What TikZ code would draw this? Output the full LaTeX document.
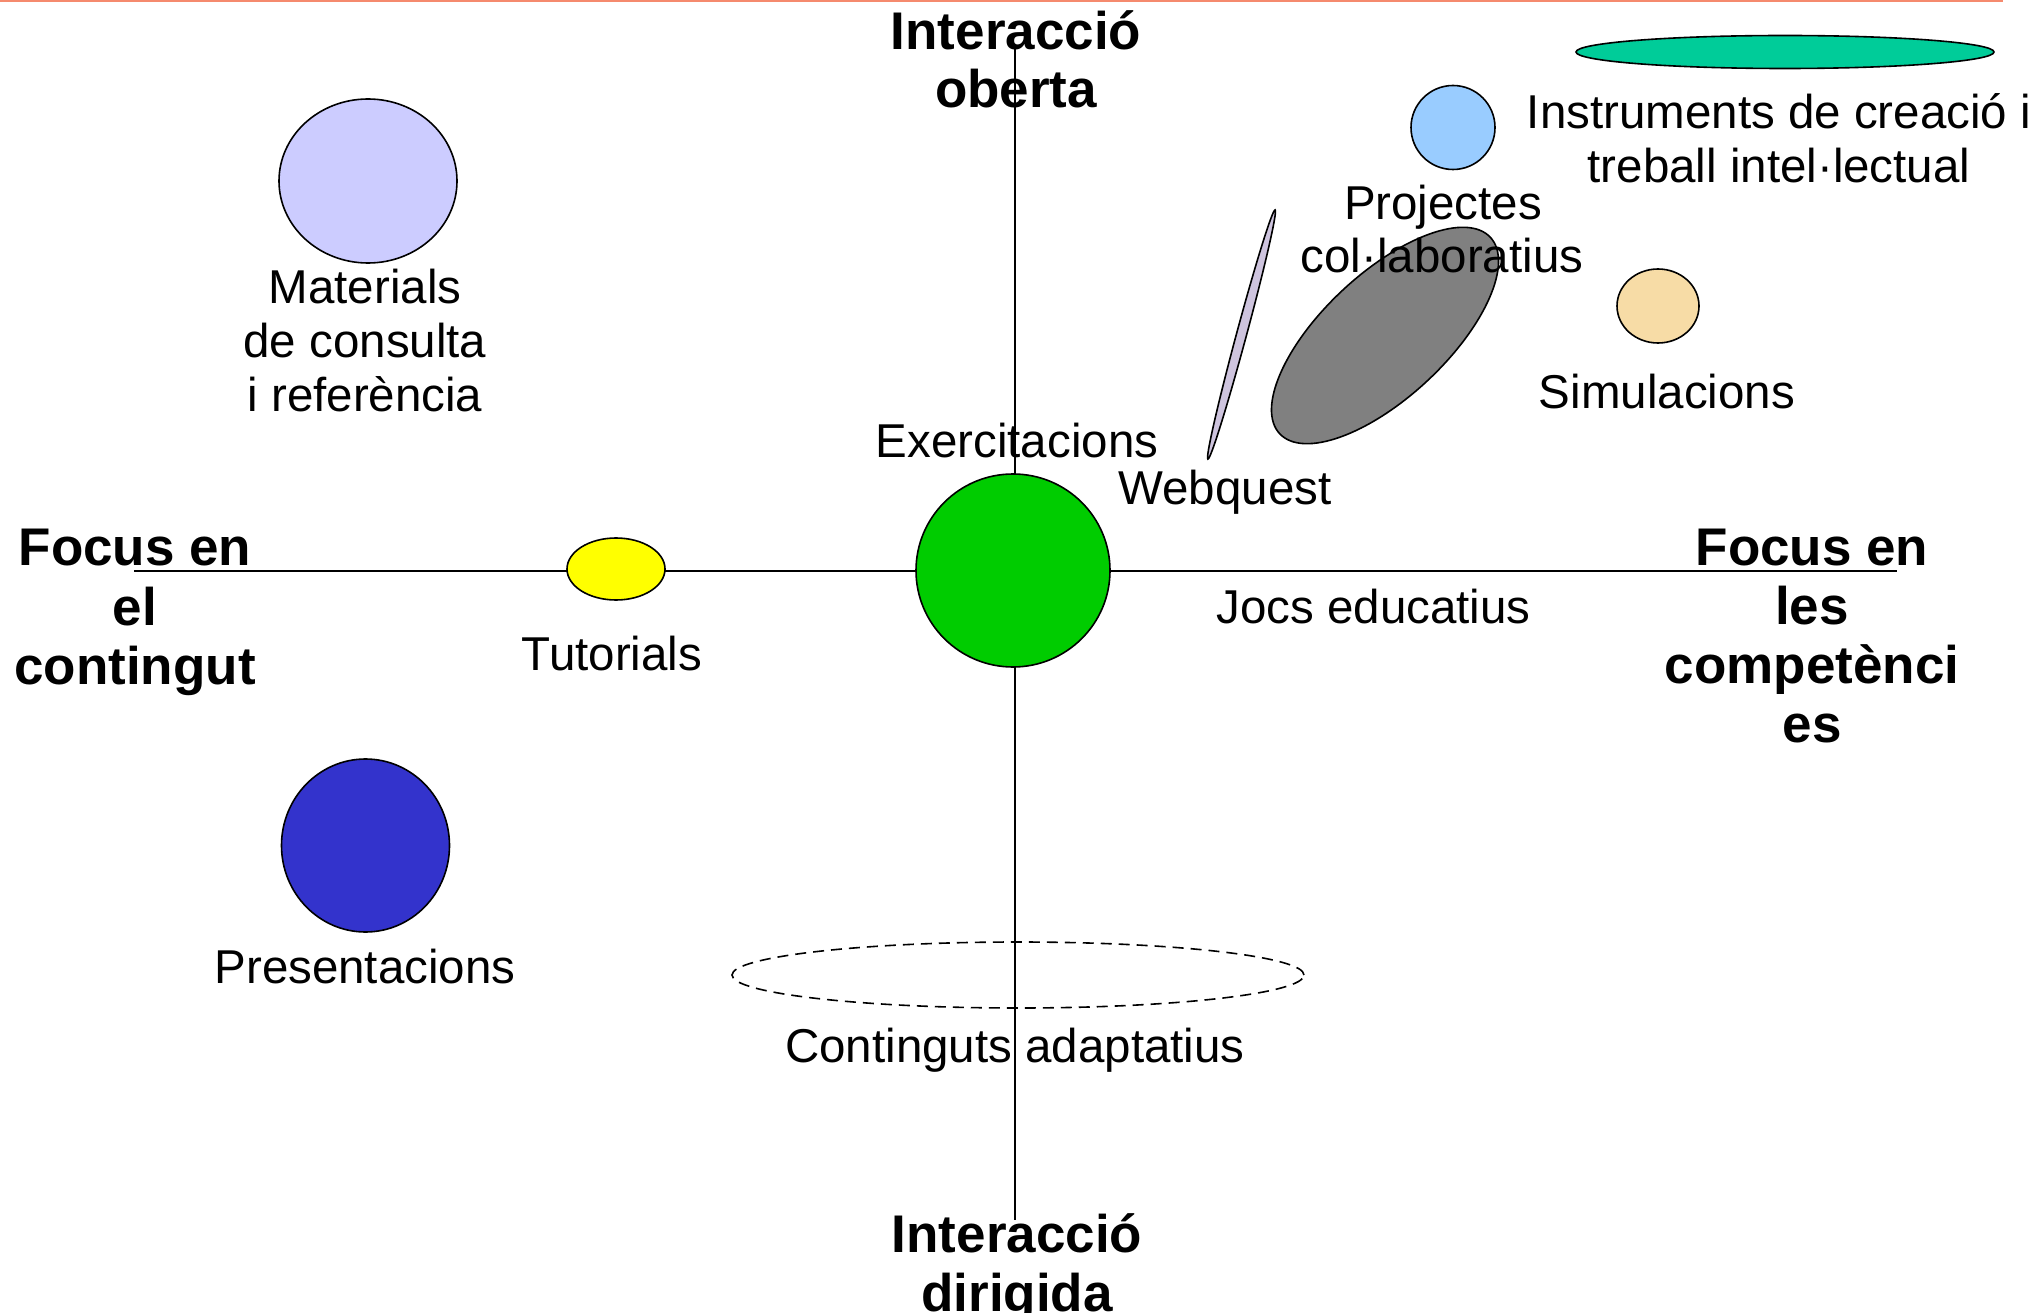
\documentclass[tikz,border=0pt]{standalone}
\usepackage{fontspec}
\setmainfont{Liberation Sans}
\usetikzlibrary{shapes.geometric}
\definecolor{topline}{HTML}{F58A6E}
\definecolor{instr}{HTML}{00CC99}
\definecolor{proj}{HTML}{99CCFF}
\definecolor{mater}{HTML}{CCCCFF}
\definecolor{webq}{HTML}{CEC4DE}
\definecolor{collab}{HTML}{808080}
\definecolor{simul}{HTML}{F7DCA6}
\definecolor{tutor}{HTML}{FFFF00}
\definecolor{exerc}{HTML}{00CC00}
\definecolor{presen}{HTML}{3333CC}
\tikzset{
  lbl/.style={font=\fontsize{47.5}{53}\selectfont, anchor=base, inner sep=0pt, outer sep=0pt},
  axlbl/.style={font=\fontsize{53}{59}\selectfont\bfseries, anchor=base, inner sep=0pt, outer sep=0pt},
  blob/.style={ellipse, draw=black, line width=1.6pt, inner sep=0pt, outer sep=0pt},
  axisline/.style={draw=black, line width=1.3pt},
}
\begin{document}
\begin{tikzpicture}[x=1pt,y=-1pt]
\useasboundingbox (0,0) rectangle (2035,1313);
\fill[white] (0,0) rectangle (2035,1313);
% top rule
\coordinate (tl) at (0,1);
\coordinate (tr) at (2003,1);
\draw[topline, line width=2.2pt] (tl) -- (tr);
% axes
\coordinate (axL) at (134,571);
\coordinate (axR) at (1897,571);
\coordinate (axT) at (1015,48);
\coordinate (axB) at (1015,1220);
\draw[axisline] (axL) -- (axR);
\draw[axisline] (axT) -- (axB);
% shapes
\node[blob, fill=instr, minimum width=418pt, minimum height=33pt] (instrE) at (1785,52) {};
\node[blob, fill=proj, minimum width=84pt, minimum height=84pt] (projE) at (1453,127.5) {};
\node[blob, fill=mater, minimum width=178pt, minimum height=164pt] (matE) at (368,181) {};
\node[blob, fill=webq, minimum width=258pt, minimum height=10pt, rotate=74.9] (webE) at (1241.5,334.5) {};
\node[blob, fill=collab, minimum width=288pt, minimum height=124pt, rotate=43] (colE) at (1385,335.5) {};
\node[blob, fill=simul, minimum width=82pt, minimum height=74pt] (simE) at (1658,306) {};
\node[blob, fill=tutor, minimum width=98pt, minimum height=62pt] (tutE) at (616,569) {};
\node[blob, fill=exerc, minimum width=194pt, minimum height=193pt] (excE) at (1013,570.5) {};
\node[blob, fill=presen, minimum width=168pt, minimum height=173pt] (preE) at (365.5,845.5) {};
\node[ellipse, draw=black, line width=1.6pt, dash pattern=on 11pt off 7pt, inner sep=0pt, minimum width=572pt, minimum height=66pt] (adaE) at (1018,975) {};
% labels
\node[axlbl] (iob1) at (1016,50) {Interacció};
\node[axlbl] (iob2) at (1016,108) {oberta};
\node[lbl] (mat1) at (365,304) {Materials};
\node[lbl] (mat2) at (365,358) {de consulta};
\node[lbl] (mat3) at (365,412) {i referència};
\node[lbl] (ins1) at (1779,129) {Instruments de creació i};
\node[lbl] (ins2) at (1779,183) {treball intel·lectual};
\node[lbl] (pro1) at (1443,220) {Projectes};
\node[lbl] (pro2) at (1442,273) {col·laboratius};
\node[lbl] (sim) at (1667,409) {Simulacions};
\node[lbl] (exe) at (1017,457) {Exercitacions};
\node[lbl] (web) at (1225,504) {Webquest};
\node[axlbl] (fc1) at (135,565) {Focus en};
\node[axlbl] (fc2) at (135,625) {el};
\node[axlbl] (fc3) at (135,684) {contingut};
\node[lbl] (tut) at (612,670) {Tutorials};
\node[lbl] (joc) at (1373.5,623) {Jocs educatius};
\node[axlbl] (fk1) at (1812,565) {Focus en};
\node[axlbl] (fk2) at (1812,624) {les};
\node[axlbl] (fk3) at (1812,683) {competènci};
\node[axlbl] (fk4) at (1812,742) {es};
\node[lbl] (pre) at (365,983) {Presentacions};
\node[lbl] (ada) at (1015,1062) {Continguts adaptatius};
\node[axlbl] (idi1) at (1017,1252) {Interacció};
\node[axlbl] (idi2) at (1017,1311) {dirigida};
\end{tikzpicture}
\end{document}
